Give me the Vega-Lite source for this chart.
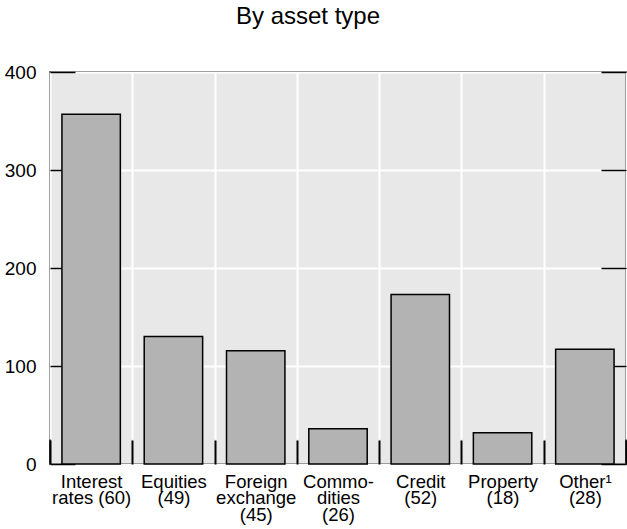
{
  "$schema": "https://vega.github.io/schema/vega-lite/v6.json",
  "width": 576,
  "height": 392,
  "autosize": {"type": "none"},
  "padding": {"left": 50, "top": 72, "right": 1, "bottom": 65},
  "background": "white",
  "title": {
    "text": "By asset type",
    "font": "Liberation Sans",
    "fontSize": 24,
    "fontWeight": "normal",
    "color": "black",
    "anchor": "middle",
    "dx": -30,
    "baseline": "bottom",
    "offset": 10
  },
  "config": {
    "view": {"fill": "#e8e8e8", "stroke": "black", "strokeWidth": 1.5},
    "axis": {
      "labelFont": "Liberation Sans",
      "labelColor": "black",
      "tickColor": "black",
      "tickWidth": 1.5,
      "domain": false,
      "title": null
    }
  },
  "data": {
    "values": [
      {"asset": "Interest|rates (60)", "value": 357},
      {"asset": "Equities|(49)", "value": 130},
      {"asset": "Foreign|exchange|(45)", "value": 115.5},
      {"asset": "Commo-|dities|(26)", "value": 36},
      {"asset": "Credit|(52)", "value": 173},
      {"asset": "Property|(18)", "value": 32},
      {"asset": "Other¹|(28)", "value": 117}
    ]
  },
  "layer": [
    {
      "mark": {"type": "bar", "opacity": 0, "width": {"band": 0.71}},
      "encoding": {
        "x": {
          "field": "asset",
          "type": "nominal",
          "sort": null,
          "scale": {"paddingInner": 0, "paddingOuter": 0},
          "axis": {
            "orient": "top",
            "zindex": 0,
            "labels": false,
            "ticks": false,
            "tickBand": "extent",
            "grid": true,
            "gridColor": "white",
            "gridWidth": 2,
            "gridDash": [0, 25, 367, 0]
          }
        },
        "y": {
          "field": "value",
          "type": "quantitative",
          "scale": {"domain": [0, 400], "nice": false},
          "axis": {
            "orient": "right",
            "zindex": 0,
            "values": [0, 100, 200, 300, 400],
            "labels": false,
            "tickSize": -25,
            "grid": false
          }
        }
      }
    },
    {
      "mark": {"type": "bar", "fill": "#b3b3b3", "stroke": "black", "strokeWidth": 1.5, "width": {"band": 0.71}},
      "encoding": {
        "x": {
          "field": "asset",
          "type": "nominal",
          "sort": null,
          "scale": {"paddingInner": 0, "paddingOuter": 0},
          "axis": {
            "orient": "bottom",
            "zindex": 2,
            "labelExpr": "split(datum.label, '|')",
            "labelAngle": 0,
            "labelFontSize": 18.5,
            "labelLineHeight": 16.5,
            "labelBaseline": "top",
            "tickBand": "extent",
            "tickSize": -24,
            "tickColor": "black",
            "tickWidth": 2,
            "labelPadding": 32,
            "grid": false
          }
        },
        "y": {
          "field": "value",
          "type": "quantitative",
          "scale": {"domain": [0, 400], "nice": false},
          "axis": {
            "orient": "left",
            "zindex": 0,
            "values": [0, 100, 200, 300, 400],
            "labelFontSize": 19,
            "tickSize": -25,
            "labelPadding": 39,
            "grid": true,
            "gridColor": "white",
            "gridWidth": 2
          }
        }
      }
    }
  ],
  "resolve": {"axis": {"y": "independent", "x": "independent"}}
}
